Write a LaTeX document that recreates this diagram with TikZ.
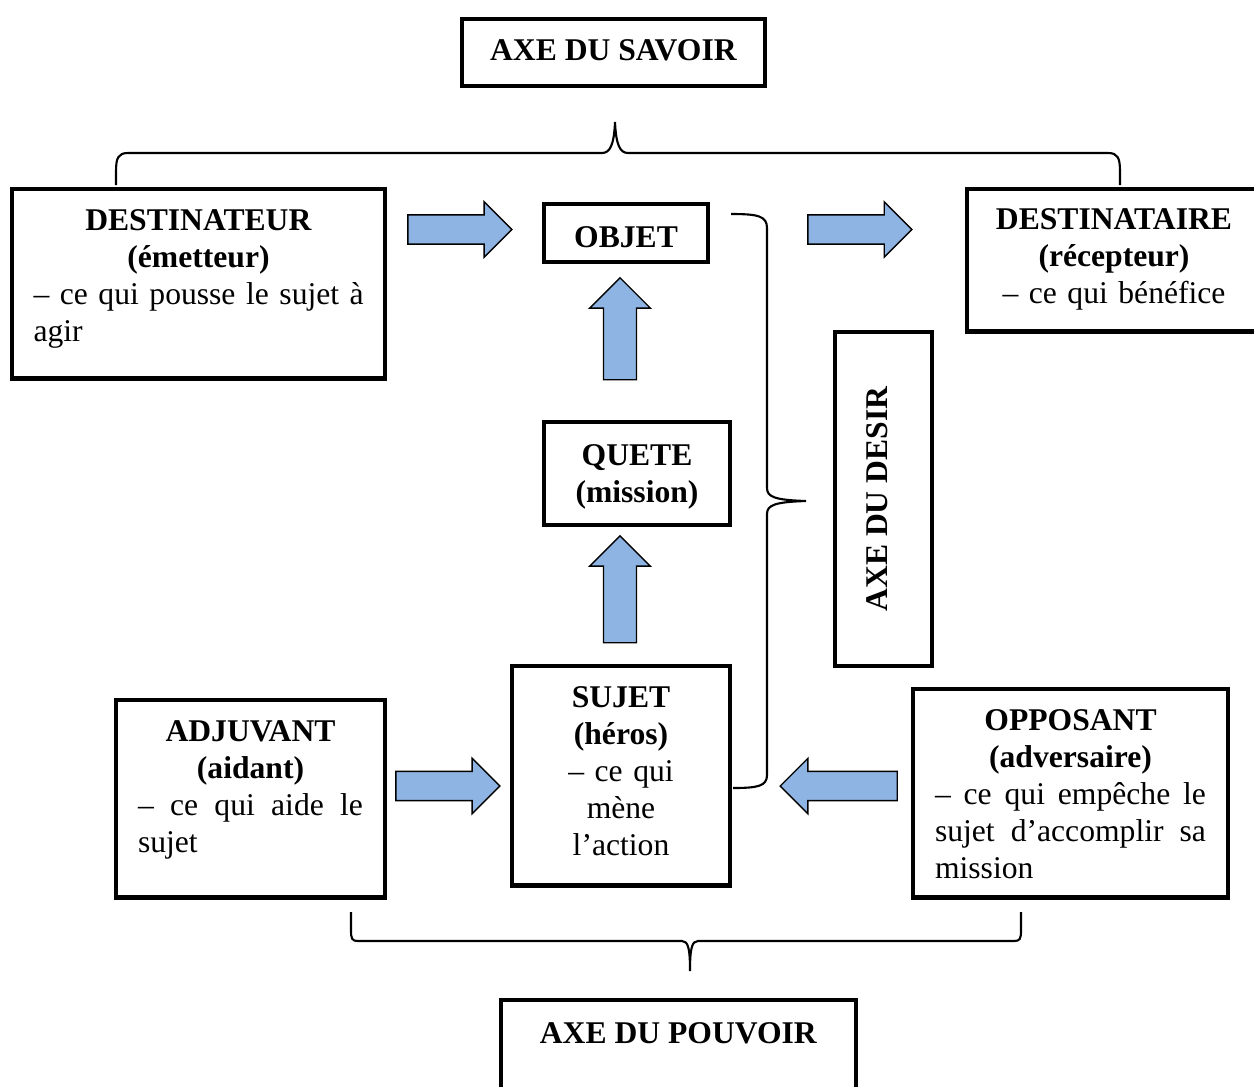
\documentclass[tikz,border=0pt]{standalone}
\usepackage{fontspec}
\setmainfont{Liberation Serif}
\usetikzlibrary{shapes.arrows}
\definecolor{bleu}{RGB}{142,180,227}
\hyphenpenalty=10000
\tolerance=9999

\begin{document}
\begin{tikzpicture}[x=0.02cm,y=-0.02cm,
  actant/.style={draw, line width=2.5pt, inner sep=0pt, anchor=north, font=\fontsize{18}{21}\selectfont},
  fleche/.style={single arrow, draw, line width=0.8pt, fill=bleu, inner sep=7.9pt, single arrow head extend=7.4pt, single arrow tip angle=90, minimum height=2.08cm},
  montee/.style={fleche, shape border rotate=90, inner sep=9pt, single arrow head extend=7.9pt},
  accolade/.style={line width=1.2pt}]
  \useasboundingbox (0,0) rectangle (1254,1086);
  % Axes
  \node[actant, minimum width=6.06cm, text height=23.5pt, text depth=14.5pt] (savoir) at (613.5,17) {\textbf{AXE DU SAVOIR}};
  \node[actant, anchor=center, rotate=90, minimum width=6.68cm, minimum height=1.94cm, text height=12pt, text depth=7pt] (desir) at (883.5,499) {\textbf{AXE DU DESIR}};
  \node[actant, minimum width=7.10cm, text height=24.7pt, text depth=56.7pt] (pouvoir) at (678.5,998) {\textbf{AXE DU POUVOIR}};
  % Actants
  \node[actant, minimum width=7.46cm, text width=6.6cm, align=left, text height=23.5pt, text depth=84.2pt] (destinateur) at (198.5,187)
    {{\centering\textbf{DESTINATEUR}\\\textbf{(émetteur)}\par}\mbox{– ce qui pousse le sujet à}\\agir};
  \node[actant, minimum width=3.28cm, text height=24.7pt, text depth=8.2pt] (objet) at (626,202) {\textbf{OBJET}\hspace{8pt}};
  \node[actant, minimum width=5.88cm, text width=5.6cm, align=center, text height=23pt, text depth=58.1pt] (destinataire) at (1114,187)
    {\textbf{DESTINATAIRE}\\\textbf{(récepteur)}\\– ce qui bénéfice};
  \node[actant, minimum width=3.72cm, text width=3.5cm, align=center, text height=24.7pt, text depth=33.7pt] (quete) at (637,420)
    {\textbf{QUETE}\\\textbf{(mission)}};
  \node[actant, minimum width=4.36cm, text width=4cm, align=center, text height=23.5pt, text depth=101.2pt] (sujet) at (621,664)
    {\textbf{SUJET}\\\textbf{(héros)}\\– ce qui\\mène\\l’action};
  \node[actant, minimum width=5.38cm, text width=4.5cm, align=justify, text height=23.5pt, text depth=88.7pt] (adjuvant) at (250.5,698)
    {{\centering\textbf{ADJUVANT}\\\textbf{(aidant)}\par}– ce qui aide le sujet};
  \node[actant, minimum width=6.30cm, text width=5.42cm, align=justify, text height=23.5pt, text depth=95pt] (opposant) at (1070.5,687)
    {{\centering\textbf{OPPOSANT}\\\textbf{(adversaire)}\par}– ce qui empêche le sujet d’accomplir sa mission};
  % Block arrows
  \node[fleche] (f1) at (452.5,229.5) {};
  \node[fleche] (f2) at (852.5,229.5) {};
  \node[montee, minimum height=2.04cm] (f3) at (620,337) {};
  \node[montee, minimum height=2.14cm] (f4) at (620,597.5) {};
  \node[fleche] (f5) at (440.5,786) {};
  \node[fleche, shape border rotate=180, minimum height=2.34cm] (f6) at (846,786) {};
  % Braces
  \draw[accolade] (116,185) -- (116,172) .. controls (116,158) and (118,153) .. (128,153) -- (602,153)
    .. controls (610,153) and (614,145) .. (615,122) .. controls (616,145) and (620,153) .. (628,153)
    -- (1108,153) .. controls (1118,153) and (1120,158) .. (1120,172) -- (1120,185);
  \draw[accolade] (731,214) .. controls (758,214) and (767,216) .. (767,228) -- (767,488)
    .. controls (767,497) and (775,500) .. (806,501) .. controls (775,502) and (767,505) .. (767,514)
    -- (767,775) .. controls (767,786) and (758,788) .. (733,788);
  \draw[accolade] (351,912) -- (351,930) .. controls (351,939) and (352,941) .. (358,941) -- (682,941)
    .. controls (688,941) and (690,948) .. (690,971) .. controls (690,948) and (692,941) .. (698,941)
    -- (1014,941) .. controls (1020,941) and (1021,939) .. (1021,930) -- (1021,912);
\end{tikzpicture}
\end{document}
